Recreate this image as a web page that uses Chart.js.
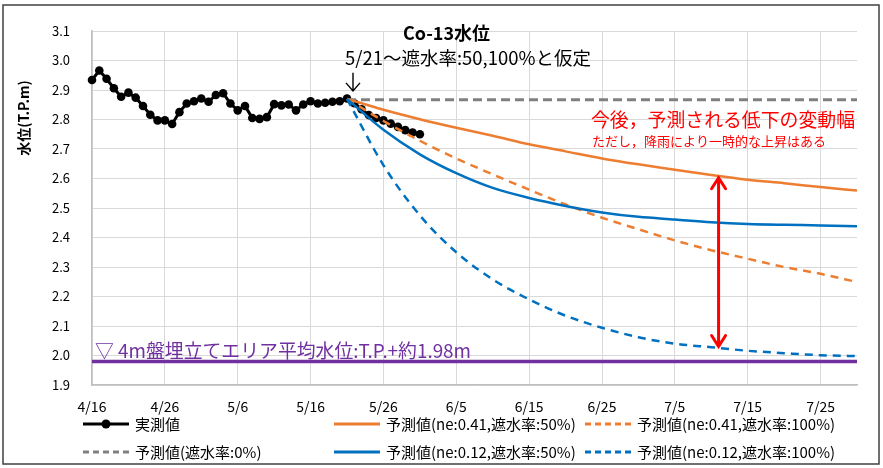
<!DOCTYPE html>
<html>
<head>
<meta charset="utf-8">
<script src="https://cdn.jsdelivr.net/npm/chart.js@4.4.1/dist/chart.umd.min.js"></script>
<style>
  html, body { margin: 0; padding: 0; background: #ffffff; }
  #wrap { width: 883px; height: 468px; position: relative; }
</style>
</head>
<body>
<div id="wrap"><canvas id="c" width="883" height="468"></canvas></div>
<script>
// ---- data (days counted from 4/16) ----
const tickDays   = [0, 10, 20, 30, 40, 50, 60, 70, 80, 90, 100];
const tickLabels = ['4/16', '4/26', '5/6', '5/16', '5/26', '6/5', '6/15', '6/25', '7/5', '7/15', '7/25'];

const measuredDays = [0,1,2,3,4,5,6,7,8,9,10,11,12,13,14,15,16,17,18,19,20,21,22,23,24,25,26,27,28,29,30,31,32,33,34,35,36,37,38,39,40,41,42,43,44,45];
const measuredVals = [2.934,2.966,2.938,2.906,2.877,2.891,2.874,2.846,2.816,2.797,2.797,2.785,2.825,2.854,2.862,2.871,2.860,2.883,2.889,2.854,
                      2.831,2.846,2.805,2.802,2.808,2.852,2.848,2.851,2.831,2.851,2.862,2.854,2.857,2.860,2.862,2.871,
                      2.855,2.835,2.815,2.805,2.797,2.786,2.775,2.764,2.756,2.750];

const predDays      = [35, 40, 45, 50, 55, 60, 65, 70, 75, 80, 85, 90, 95, 100, 105];
const predNone      = [2.867,2.867,2.867,2.867,2.867,2.867,2.867,2.867,2.867,2.867,2.867,2.867,2.867,2.867,2.867];
const pred041_50    = [2.870,2.833,2.801,2.772,2.745,2.716,2.692,2.668,2.648,2.630,2.612,2.596,2.584,2.571,2.559];
const pred041_100   = [2.870,2.795,2.728,2.668,2.614,2.562,2.512,2.467,2.428,2.390,2.357,2.328,2.300,2.277,2.249];
const pred012_50    = [2.870,2.765,2.682,2.618,2.568,2.534,2.507,2.485,2.470,2.461,2.452,2.446,2.443,2.441,2.438];
const pred012_100   = [2.870,2.645,2.475,2.350,2.258,2.190,2.135,2.094,2.062,2.040,2.028,2.016,2.008,2.001,1.998];

const areaDays = [0, 105];
const areaVals = [1.98, 1.98];

const yTicks = [1.9,2.0,2.1,2.2,2.3,2.4,2.5,2.6,2.7,2.8,2.9,3.0,3.1];

const arrowDay = 86, arrowTopVal = 2.606, arrowBottomVal = 2.027;
const startDay = 35, startVal = 2.87;

const legendLabels = ['実測値', '予測値(ne:0.41,遮水率:50%)', '予測値(ne:0.41,遮水率:100%)',
                      '予測値(遮水率:0%)', '予測値(ne:0.12,遮水率:50%)', '予測値(ne:0.12,遮水率:100%)'];

const titleText = 'Co-13水位';
const subText = '5/21～遮水率:50,100%と仮定';
const redText1 = '今後，予測される低下の変動幅';
const redText2 = 'ただし，降雨により一時的な上昇はある';
const areaText = '▽ 4m盤埋立てエリア平均水位:T.P.+約1.98m';
const yTitle = '水位(T.P.m)';

// ---- helpers ----
const pts = (xs, ys) => xs.map((x, i) => ({ x: x, y: ys[i] }));
const FONT = '"Noto Sans CJK JP", "Noto Sans", sans-serif';
const ORANGE = '#ED7D31', BLUE = '#0070C0', GRAY = '#808080', PURPLE = '#7030A0';

const overlay = {
  id: 'overlay',
  afterDraw(chart) {
    const ctx = chart.ctx;
    const xs = chart.scales.x, ys = chart.scales.y;
    ctx.save();
    // frame
    ctx.strokeStyle = '#404040';
    ctx.lineWidth = 1.5;
    ctx.strokeRect(3, 5, 876, 459);

    // titles
    ctx.fillStyle = '#000';
    ctx.textBaseline = 'middle';
    ctx.textAlign = 'left';
    ctx.font = 'bold 18px ' + FONT;
    ctx.fillText(titleText, 403, 33, 95);
    ctx.font = '18.5px ' + FONT;
    ctx.fillText(subText, 345, 58, 246);
    // small down arrow at start point
    const sx = xs.getPixelForValue(startDay);
    const sy = ys.getPixelForValue(startVal);
    ctx.strokeStyle = '#000';
    ctx.lineWidth = 1.4;
    ctx.beginPath();
    ctx.moveTo(sx + 6, sy - 26); ctx.lineTo(sx + 6, sy - 8);
    ctx.moveTo(sx - 1, sy - 16); ctx.lineTo(sx + 6, sy - 8); ctx.lineTo(sx + 13, sy - 16);
    ctx.stroke();

    // red texts
    ctx.fillStyle = '#FF0000';
    ctx.font = '19px ' + FONT;
    ctx.fillText(redText1, 591, 120, 264);
    ctx.font = '13px ' + FONT;
    ctx.fillText(redText2, 592, 141, 238);

    // red double arrow
    const ax = xs.getPixelForValue(arrowDay);
    const ay1 = ys.getPixelForValue(arrowTopVal);
    const ay2 = ys.getPixelForValue(arrowBottomVal);
    ctx.strokeStyle = '#FF0000';
    ctx.lineWidth = 3;
    ctx.lineCap = 'round';
    ctx.beginPath();
    ctx.moveTo(ax, ay1 + 1); ctx.lineTo(ax, ay2 - 1);
    ctx.moveTo(ax - 7, ay1 + 12); ctx.lineTo(ax, ay1 + 1); ctx.lineTo(ax + 7, ay1 + 12);
    ctx.moveTo(ax - 7, ay2 - 12); ctx.lineTo(ax, ay2 - 1); ctx.lineTo(ax + 7, ay2 - 12);
    ctx.stroke();

    // purple area text
    ctx.fillStyle = PURPLE;
    ctx.font = '19px ' + FONT;
    ctx.fillText(areaText, 95, 351, 376);

    // y axis title
    ctx.save();
    ctx.translate(24, 118);
    ctx.rotate(-Math.PI / 2);
    ctx.textAlign = 'center';
    ctx.fillStyle = '#000';
    ctx.font = 'bold 14px ' + FONT;
    ctx.fillText(yTitle, 0, 0);
    ctx.restore();

    // legend
    const legendStyle = [
      { c: '#000', d: [], m: true, x: 83, y: 424 },
      { c: ORANGE, d: [], m: false, x: 334, y: 424 },
      { c: ORANGE, d: [6, 4], m: false, x: 585, y: 424 },
      { c: GRAY, d: [6, 4], m: false, x: 83, y: 452 },
      { c: BLUE, d: [], m: false, x: 334, y: 452 },
      { c: BLUE, d: [6, 4], m: false, x: 585, y: 452 }
    ];
    ctx.font = '15px ' + FONT;
    ctx.lineCap = 'butt';
    legendLabels.forEach((lab, i) => {
      const s = legendStyle[i];
      ctx.strokeStyle = s.c;
      ctx.lineWidth = 3;
      ctx.setLineDash(s.d);
      ctx.beginPath();
      ctx.moveTo(s.x, s.y); ctx.lineTo(s.x + 46, s.y);
      ctx.stroke();
      ctx.setLineDash([]);
      if (s.m) {
        ctx.fillStyle = s.c;
        ctx.beginPath(); ctx.arc(s.x + 23, s.y, 4.5, 0, Math.PI * 2); ctx.fill();
      }
      ctx.fillStyle = '#000';
      ctx.fillText(lab, s.x + 52, s.y, 200);
    });
    ctx.restore();
  }
};

new Chart(document.getElementById('c'), {
  type: 'line',
  data: {
    datasets: [
      { label: legendLabels[0], data: pts(measuredDays, measuredVals), borderColor: '#000', backgroundColor: '#000',
        borderWidth: 3, pointRadius: 4.3, pointBackgroundColor: '#000', pointBorderWidth: 0, tension: 0, order: 10, clip: 8 },
      { label: legendLabels[3], data: pts(predDays, predNone), borderColor: GRAY, borderWidth: 3, borderDash: [9, 5],
        pointRadius: 0, tension: 0, order: 6 },
      { label: legendLabels[1], data: pts(predDays, pred041_50), borderColor: ORANGE, borderWidth: 2.5,
        pointRadius: 0, cubicInterpolationMode: 'monotone', order: 5 },
      { label: legendLabels[2], data: pts(predDays, pred041_100), borderColor: ORANGE, borderWidth: 2.5, borderDash: [8, 6],
        pointRadius: 0, cubicInterpolationMode: 'monotone', order: 4 },
      { label: legendLabels[4], data: pts(predDays, pred012_50), borderColor: BLUE, borderWidth: 2.5,
        pointRadius: 0, cubicInterpolationMode: 'monotone', order: 3 },
      { label: legendLabels[5], data: pts(predDays, pred012_100), borderColor: BLUE, borderWidth: 2.5, borderDash: [8, 6],
        pointRadius: 0, cubicInterpolationMode: 'monotone', order: 2 },
      { label: 'area', data: pts(areaDays, areaVals), borderColor: PURPLE, borderWidth: 3.5,
        pointRadius: 0, tension: 0, order: 1 }
    ]
  },
  options: {
    responsive: false,
    animation: false,
    layout: { padding: { left: 0, right: 26, top: 31, bottom: 0 } },
    plugins: { legend: { display: false }, title: { display: false }, tooltip: { enabled: false } },
    scales: {
      x: {
        type: 'linear', min: 0, max: 105,
        afterBuildTicks: (s) => { s.ticks = tickDays.map(v => ({ value: v })); },
        afterFit: (s) => { s.height = 83; },
        ticks: { autoSkip: false, maxRotation: 0, padding: 13, color: '#000',
                 font: { family: FONT, size: 14 },
                 callback: (v) => { const i = tickDays.indexOf(v); return i >= 0 ? tickLabels[i] : ''; } },
        grid: { color: '#D9D9D9', lineWidth: 1, drawTicks: false },
        border: { color: '#BFBFBF', width: 1.5 }
      },
      y: {
        min: 1.9, max: 3.1,
        afterBuildTicks: (s) => { s.ticks = yTicks.map(v => ({ value: v })); },
        afterFit: (s) => { s.width = 92; },
        ticks: { padding: 22, color: '#000', font: { family: FONT, size: 13 },
                 callback: (v) => Number(v).toFixed(1) },
        grid: { color: '#D9D9D9', lineWidth: 1, drawTicks: false },
        border: { color: '#BFBFBF', width: 1.5 }
      }
    }
  },
  plugins: [overlay]
});
</script>
</body>
</html>
